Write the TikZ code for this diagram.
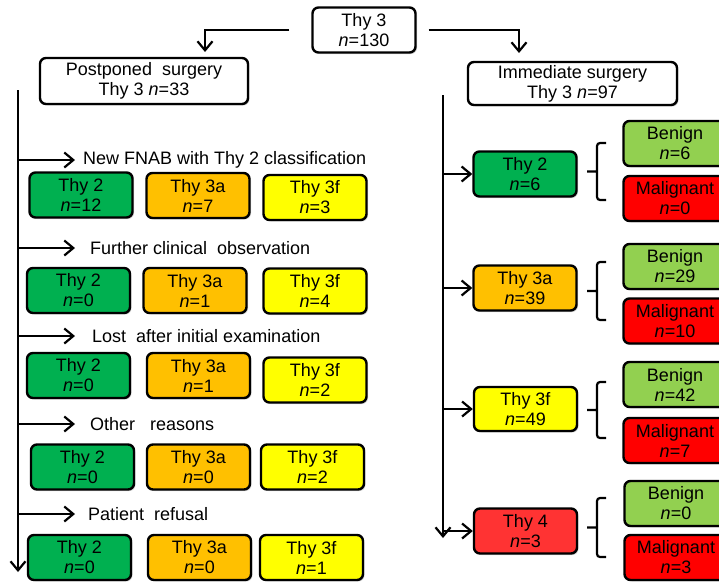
\documentclass[tikz,border=0pt]{standalone}
\usepackage{fontspec}
\setmainfont{Liberation Sans}
\usetikzlibrary{arrows.meta, positioning, shadows}
\definecolor{ThyGreen}{HTML}{00B050}
\definecolor{ThyOrange}{HTML}{FFC000}
\definecolor{ThyYellow}{HTML}{FFFF00}
\definecolor{ThyRed}{HTML}{FF3333}
\definecolor{BenignGreen}{HTML}{92D050}
\definecolor{MalignRed}{HTML}{FF0000}

\begin{document}
\begin{tikzpicture}[
        x=1pt, y=-1pt,
        font=\fontsize{18}{20}\selectfont,
        thybox/.style={rectangle, draw=black, line width=2.4pt, rounded corners=6pt, minimum width=103pt, minimum height=45pt, align=center, inner sep=1pt, drop shadow={shadow xshift=1.5pt, shadow yshift=-1.5pt, opacity=0.3}},
        whitebox/.style={thybox, fill=white},
        grouplabel/.style={anchor=west, inner xsep=8pt, inner ysep=0pt},
        connector/.style={draw, line width=2.2pt, -{Straight Barb[length=9pt, width=15pt]}},
        forkline/.style={draw, line width=2.2pt, rounded corners=3pt}
    ]
        \useasboundingbox (0,0) rectangle (719,581);
        \clip (0,0) rectangle (719,581);

        % Top of the tree
        \node (top) [whitebox] at (364,30) {Thy 3\\\textit{n}=130};
        \node (post) [whitebox, minimum width=208pt, minimum height=46pt] at (144,81) {Postponed\ \ surgery\\Thy 3 \textit{n}=33};
        \node (imm) [whitebox, minimum width=209pt, minimum height=43pt] at (572.5,83.5) {Immediate surgery\\Thy 3 \textit{n}=97};
        \coordinate (pl) at (205,52);
        \coordinate (pr) at (519,53);
        \draw [connector] ([xshift=-22pt]top.west) -| (pl);
        \draw [connector] ([xshift=12pt]top.east) -| (pr);

        % Postponed surgery
        \coordinate (ltop) at (18,90);
        \coordinate (lbot) at (18,572);
        \draw [connector] (ltop) -- (lbot);

        \node (lnew) [grouplabel] at (75,160) {New FNAB with Thy 2 classification};
        \node (new2) [thybox, fill=ThyGreen] at (81,195) {Thy 2\\\textit{n}=12};
        \node (new3a) [thybox, fill=ThyOrange] at (198,195.5) {Thy 3a\\\textit{n}=7};
        \node (new3f) [thybox, fill=ThyYellow] at (315,197.5) {Thy 3f\\\textit{n}=3};

        \node (lobs) [grouplabel, inner xsep=15pt] at (75,248) {Further clinical\ \ observation};
        \node (obs2) [thybox, fill=ThyGreen] at (78.5,290.5) {Thy 2\\\textit{n}=0};
        \node (obs3a) [thybox, fill=ThyOrange] at (195,290.5) {Thy 3a\\\textit{n}=1};
        \node (obs3f) [thybox, fill=ThyYellow] at (315,291) {Thy 3f\\\textit{n}=4};

        \node (llost) [grouplabel, inner xsep=17pt] at (75,336) {Lost\ \ after initial examination};
        \node (lost2) [thybox, fill=ThyGreen] at (78.5,375.5) {Thy 2\\\textit{n}=0};
        \node (lost3a) [thybox, fill=ThyOrange] at (198.5,375.5) {Thy 3a\\\textit{n}=1};
        \node (lost3f) [thybox, fill=ThyYellow] at (315,380) {Thy 3f\\\textit{n}=2};

        \node (loth) [grouplabel, inner xsep=15pt] at (75,424) {Other\ \ \ reasons};
        \node (oth2) [thybox, fill=ThyGreen] at (82.5,467) {Thy 2\\\textit{n}=0};
        \node (oth3a) [thybox, fill=ThyOrange] at (198.5,467) {Thy 3a\\\textit{n}=0};
        \node (oth3f) [thybox, fill=ThyYellow] at (312.5,467) {Thy 3f\\\textit{n}=2};

        \node (lref) [grouplabel, inner xsep=13pt] at (75,514) {Patient\ \ refusal};
        \node (ref2) [thybox, fill=ThyGreen] at (79.5,557.5) {Thy 2\\\textit{n}=0};
        \node (ref3a) [thybox, fill=ThyOrange] at (199.5,557.5) {Thy 3a\\\textit{n}=0};
        \node (ref3f) [thybox, fill=ThyYellow] at (311.5,557.5) {Thy 3f\\\textit{n}=1};

        \draw [connector] (ltop |- lnew) -- (lnew);
        \draw [connector] (ltop |- lobs) -- (lobs);
        \draw [connector] (ltop |- llost) -- (llost);
        \draw [connector] (ltop |- loth) -- (loth);
        \draw [connector] (ltop |- lref) -- (lref);

        % Immediate surgery
        \coordinate (rtop) at (443,95);
        \coordinate (rbot) at (443,538);
        \draw [connector] (rtop) -- (rbot);

        \node (imm2) [thybox, fill=ThyGreen] at (525,174) {Thy 2\\\textit{n}=6};
        \node (imm3a) [thybox, fill=ThyOrange] at (525,288) {Thy 3a\\\textit{n}=39};
        \node (imm3f) [thybox, fill=ThyYellow, minimum height=44pt] at (525.5,409) {Thy 3f\\\textit{n}=49};
        \node (imm4) [thybox, fill=ThyRed] at (525.5,531) {Thy 4\\\textit{n}=3};

        \node (ben2) [thybox, fill=BenignGreen] at (675,143.5) {Benign\\\textit{n}=6};
        \node (mal2) [thybox, fill=MalignRed] at (675,198.5) {Malignant\\\textit{n}=0};
        \node (ben3a) [thybox, fill=BenignGreen] at (675,266.5) {Benign\\\textit{n}=29};
        \node (mal3a) [thybox, fill=MalignRed] at (675,321) {Malignant\\\textit{n}=10};
        \node (ben3f) [thybox, fill=BenignGreen] at (675,384.5) {Benign\\\textit{n}=42};
        \node (mal3f) [thybox, fill=MalignRed] at (675,440.5) {Malignant\\\textit{n}=7};
        \node (ben4) [thybox, fill=BenignGreen] at (676,503.5) {Benign\\\textit{n}=0};
        \node (mal4) [thybox, fill=MalignRed] at (676,557.5) {Malignant\\\textit{n}=3};

        \draw [connector] (rtop |- imm2) -- (imm2);
        \draw [connector] (rtop |- imm3a) -- (imm3a);
        \draw [connector] (rtop |- imm3f) -- (imm3f);
        \draw [connector] (rtop |- imm4) -- (imm4);

        % Brackets
        \foreach \yt/\yb in {143/200, 262/320, 382/438, 498/557}
            \draw [forkline] (606,\yt) -- (597,\yt) -- (597,\yb) -- (606,\yb)
                (597,{(\yt+\yb)/2}) -- (587,{(\yt+\yb)/2});
    \end{tikzpicture}
\end{document}
